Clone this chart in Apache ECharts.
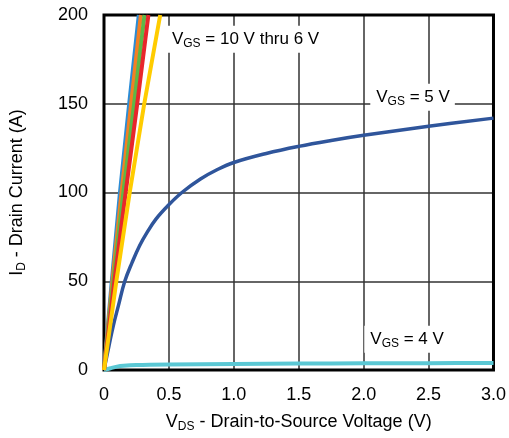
<!DOCTYPE html>
<html>
<head>
<meta charset="utf-8">
<script src="https://cdn.jsdelivr.net/npm/echarts@6/dist/echarts.min.js"></script>
<style>
html,body{margin:0;padding:0;background:#fff;}
#chart{width:509px;height:438px;}
</style>
</head>
<body>
<div id="chart"></div>
<script>
// ---- data ----
const xTicks = [0, 0.5, 1.0, 1.5, 2.0, 2.5, 3.0];
const yTicks = [0, 50, 100, 150, 200];

// steep lines: drain current points and corresponding VDS
const idSteep = [0, 50, 100, 150, 200];
const vds10V = [0, 0.060, 0.123, 0.194, 0.268];
const vds9V  = [0, 0.065, 0.135, 0.209, 0.284];
const vds8V  = [0, 0.072, 0.149, 0.232, 0.312];
const vds7V  = [0, 0.080, 0.167, 0.256, 0.342];
const vds6V  = [0, 0.095, 0.198, 0.310, 0.433];

const vds5V = [0, 0.038, 0.071, 0.11, 0.16, 0.216, 0.274, 0.332, 0.40, 0.49, 0.60, 0.743, 0.87, 1.0, 1.25, 1.5, 1.75, 2.0, 2.5, 3.0];
const id5V  = [0, 13.5, 24.8, 36, 50, 60.5, 70, 77.5, 85, 92.4, 100, 107.6, 112.8, 116.9, 122, 126.0, 129.3, 132.2, 137.3, 141.9];

const vds4V = [0, 0.05, 0.1, 0.15, 0.25, 0.5, 1.0, 1.5, 2.0, 2.5, 3.0];
const id4V  = [0, 1.0, 1.9, 2.4, 2.8, 3.1, 3.4, 3.6, 3.75, 3.85, 3.95];

const labelTexts = [
  {sub: 'GS', rest: ' = 10 V thru 6 V', at: [0.477, 186.4]},
  {sub: 'GS', rest: ' = 5 V', at: [2.051, 153.7]},
  {sub: 'GS', rest: ' = 4 V', at: [2.005, 17.3]}
];

// ---- build ----
const zip = (xs, ys) => xs.map((x, i) => [x, ys[i]]);
const FONT = "'Liberation Sans', Arial, sans-serif";
function makeRich(size, subSize) {
  return {
    v: {fontFamily: FONT, fontSize: size, color: '#000', lineHeight: size + 4},
    s: {fontFamily: FONT, fontSize: subSize, color: '#000', lineHeight: subSize, verticalAlign: 'bottom'}
  };
}
const richTitle = makeRich(18, 12);
const richNote = makeRich(17, 12);

function lineSeries(data, color, width, smooth) {
  return {
    type: 'line', data: data, showSymbol: false, symbol: 'none',
    smooth: smooth || false, clip: true,
    lineStyle: {color: color, width: width},
    emphasis: {disabled: true}, silent: true, animation: false
  };
}

const chart = echarts.init(document.getElementById('chart'), null, {renderer: 'canvas'});
const option = {
  animation: false,
  backgroundColor: '#fff',
  grid: {left: 102, right: 12, top: 15, bottom: 67, show: true, borderColor: '#000', borderWidth: 3, backgroundColor: 'transparent', z: 3},
  xAxis: {
    type: 'value', min: 0, max: 3, interval: 0.5,
    name: '{v|V}{s|DS}{v| - Drain-to-Source Voltage (V)}',
    nameLocation: 'middle', nameGap: 41,
    nameTextStyle: {rich: richTitle},
    axisLine: {show: false}, axisTick: {show: false},
    axisLabel: {fontFamily: FONT, fontSize: 18, color: '#000', margin: 16,
      formatter: v => (v === 0 ? '0' : v.toFixed(1))},
    splitLine: {show: true, showMinLine: false, showMaxLine: false, lineStyle: {color: '#333', width: 1.5}}
  },
  yAxis: {
    type: 'value', min: 0, max: 200, interval: 50,
    name: '{v|I}{s|D}{v| - Drain Current (A)}',
    nameLocation: 'middle', nameGap: 76,
    nameTextStyle: {rich: richTitle},
    axisLine: {show: false}, axisTick: {show: false},
    axisLabel: {fontFamily: FONT, fontSize: 18, color: '#000', margin: 16},
    splitLine: {show: true, showMinLine: false, showMaxLine: false, lineStyle: {color: '#333', width: 1.5}}
  },
  series: [
    lineSeries(zip(vds4V, id4V), '#5bc8d4', 4, 0.3),
    lineSeries(zip(vds5V, id5V), '#2f559b', 3.5, 0.4),
    lineSeries(zip(vds10V, idSteep), '#2b8cd6', 4, false),
    lineSeries(zip(vds9V, idSteep), '#f47f24', 4, false),
    lineSeries(zip(vds8V, idSteep), '#5db847', 4, false),
    lineSeries(zip(vds7V, idSteep), '#e8262b', 4, false),
    lineSeries(zip(vds6V, idSteep), '#ffcc00', 4, false)
  ]
};
chart.setOption(option);

const graphics = labelTexts.map(l => {
  const p = chart.convertToPixel({gridIndex: 0}, l.at);
  return {
    type: 'text', x: p[0], y: p[1], z: 100,
    style: {
      text: '{v|V}{s|' + l.sub + '}{v|' + l.rest + '}',
      rich: richNote,
      verticalAlign: 'middle', align: 'left',
      backgroundColor: '#fff', padding: [3, 5, 3, 6]
    }
  };
});
chart.setOption({graphic: graphics});
</script>
</body>
</html>
